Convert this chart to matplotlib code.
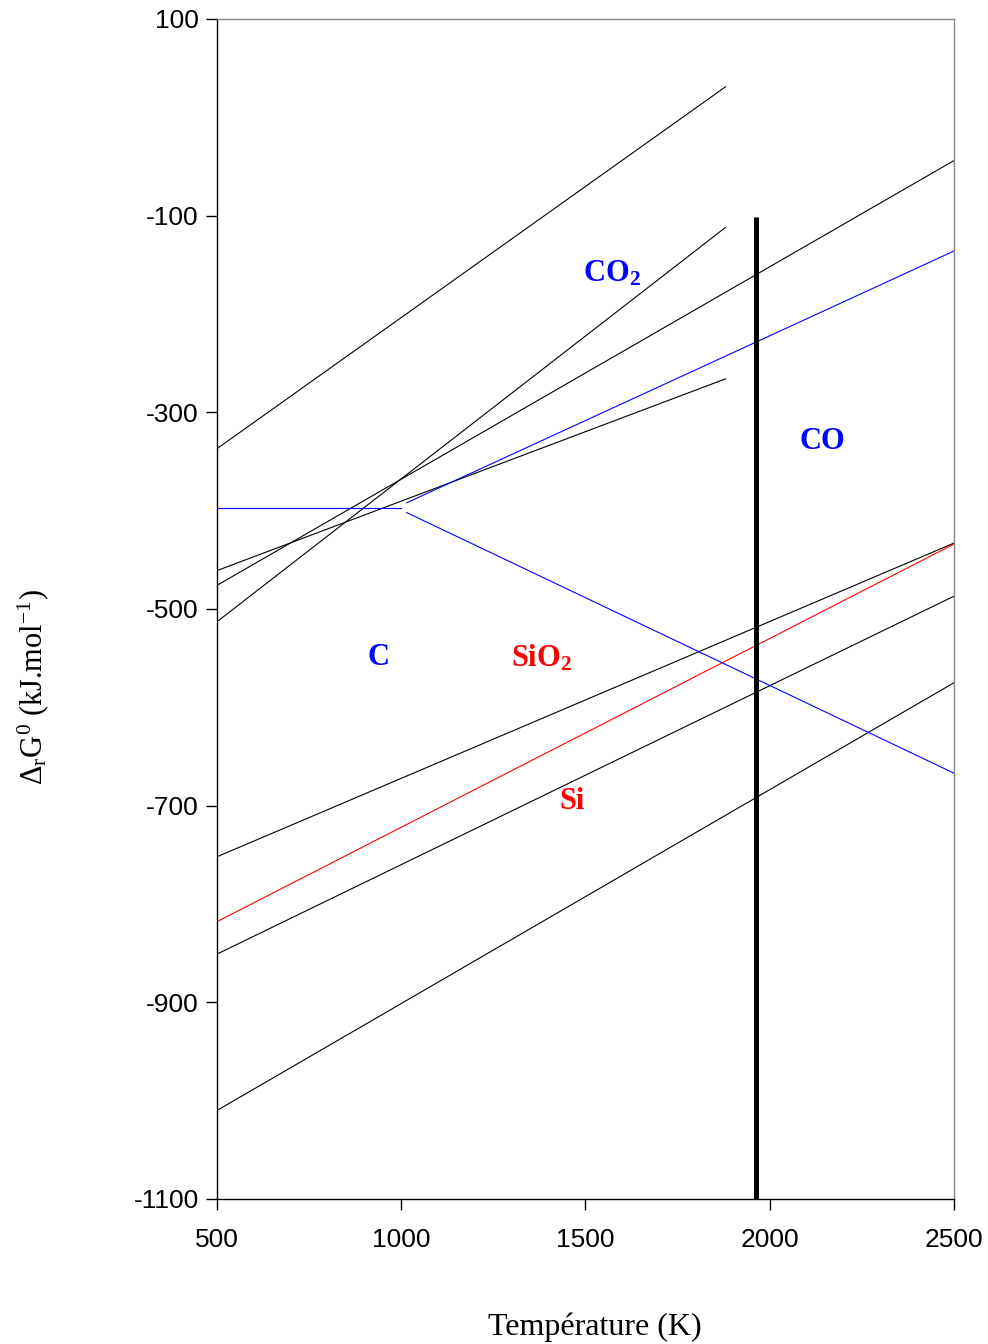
import matplotlib.pyplot as plt

plt.rcParams['mathtext.fontset'] = 'custom'
plt.rcParams['mathtext.rm'] = 'Liberation Serif'
plt.rcParams['mathtext.it'] = 'Liberation Serif:italic'
plt.rcParams['mathtext.bf'] = 'Liberation Serif:bold'
plt.rcParams['axes.unicode_minus'] = False

# Ellingham lines (temperature in K, DrG0 in kJ/mol), end points
T_short = [500, 1880]
T_full = [500, 2500]
black_short = [[-337, 31], [-513, -112], [-461, -266]]
black_full = [[-476, -44], [-752, -433], [-851, -487], [-1010, -575]]
sio2_line = [-818, -434]

# carbon lines
T_c = [500, 1000]
G_c = [-397, -397]
T_co = [1015, 2500]
G_co2 = [-392, -136]
G_co = [-402, -667]

# fusion of Si (vertical bar)
T_fus = 1963
G_fus = [-101, -1100]

labels = ['CO$_\\mathbf{2}$', 'CO', 'C', 'SiO$_\\mathbf{2}$', 'Si']
label_T = [1572, 2142, 937, 1382, 1463]
label_G = [-159, -330, -549, -550, -696]
label_col = ['blue', 'blue', 'blue', 'red', 'red']

fig = plt.figure(figsize=(9.88, 13.44), dpi=100)
ax = fig.add_axes([0.2196, 0.1079, 0.7460, 0.8780])

for g in black_short:
    ax.plot(T_short, g, color='black', lw=0.8)
for g in black_full:
    ax.plot(T_full, g, color='black', lw=0.8)
ax.plot(T_full, sio2_line, color='red', lw=0.8)
ax.plot(T_c, G_c, color='blue', lw=0.8)
ax.plot(T_co, G_co2, color='blue', lw=0.8)
ax.plot(T_co, G_co, color='blue', lw=0.8)
ax.plot([T_fus, T_fus], G_fus, color='black', lw=3.6, solid_capstyle='butt')

for txt, x, y, c in zip(labels, label_T, label_G, label_col):
    ax.text(x, y, txt, color=c, fontsize=22, fontweight='bold',
            family='Liberation Serif', ha='center', va='center')

ax.set_xlim(500, 2500)
ax.set_ylim(-1100, 100)
ax.set_xticks([500, 1000, 1500, 2000, 2500])
ax.set_yticks([100, -100, -300, -500, -700, -900, -1100])
ax.tick_params(direction='out', length=8, width=1, labelsize=19)
for lab in ax.get_xticklabels() + ax.get_yticklabels():
    lab.set_family('Liberation Sans')
ax.tick_params(axis='x', pad=13)
ax.tick_params(axis='y', pad=5)
for s in ['top', 'right']:
    ax.spines[s].set_color('#888888')
    ax.spines[s].set_linewidth(1)
for s in ['left', 'bottom']:
    ax.spines[s].set_linewidth(1)

fig.text(0.602, 0.0127, 'Température (K)', fontsize=23, family='Liberation Serif',
         ha='center', va='center')
fig.text(0.034, 0.489, 'Δ$_\\mathrm{r}$G$^\\mathrm{0}$ (kJ.mol$^\\mathrm{-1}$)', fontsize=22,
         family='Liberation Serif', rotation=90, ha='center', va='center')

fig.savefig('out.png', dpi=100)
